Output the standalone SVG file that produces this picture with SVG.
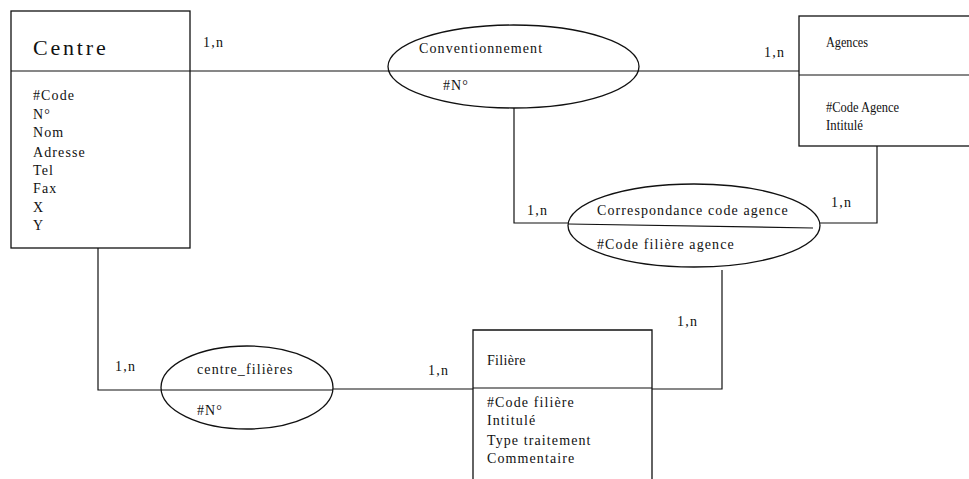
<svg xmlns="http://www.w3.org/2000/svg" width="969" height="479" viewBox="0 0 969 479">
<style>
.sh{fill:#fff;stroke:#111;stroke-width:1.3}
.ln{fill:none;stroke:#111;stroke-width:1.2}
.t{font-family:"Liberation Serif","Times New Roman",serif;font-size:14px;fill:#111;letter-spacing:1.1px}
.ag{font-family:"Liberation Serif","Times New Roman",serif;font-size:15px;fill:#111}
.card{font-family:"Liberation Serif","Times New Roman",serif;font-size:14px;fill:#111;letter-spacing:1.2px}
</style>
<rect width="969" height="479" fill="#fff"/>
<g id="connectors">
<line class="ln" x1="190" y1="71" x2="388" y2="71"/>
<line class="ln" x1="639" y1="71" x2="800" y2="71"/>
<polyline class="ln" points="514,108 514,223 568,223"/>
<polyline class="ln" points="877,146 877,223 820,223"/>
<polyline class="ln" points="98,248 98,390 161,390"/>
<line class="ln" x1="333" y1="389" x2="473" y2="389"/>
<polyline class="ln" points="722,270 722,389 652,389"/>
<text class="card" x="203" y="47">1,n</text>
<text class="card" x="764" y="57">1,n</text>
<text class="card" x="527" y="215">1,n</text>
<text class="card" x="831" y="207">1,n</text>
<text class="card" x="115" y="371">1,n</text>
<text class="card" x="428" y="375">1,n</text>
<text class="card" x="677" y="326">1,n</text>
</g>
<g id="centre">
<rect class="sh" x="11" y="11" width="179" height="237"/>
<line class="ln" x1="11" y1="71" x2="190" y2="71"/>
<text x="33" y="55" font-family="'Liberation Serif','Times New Roman',serif" font-size="22" letter-spacing="2.8" fill="#111">Centre</text>
<text class="t" x="33" y="100" letter-spacing="1px">#Code</text>
<text class="t" x="33" y="119" letter-spacing="1px">N°</text>
<text class="t" x="33" y="137" letter-spacing="1px">Nom</text>
<text class="t" x="33" y="157" letter-spacing="1px">Adresse</text>
<text class="t" x="33" y="175" letter-spacing="1px">Tel</text>
<text class="t" x="33" y="193" letter-spacing="1px">Fax</text>
<text class="t" x="33" y="212" letter-spacing="1px">X</text>
<text class="t" x="33" y="230" letter-spacing="1px">Y</text>
</g>
<g id="conventionnement">
<ellipse class="sh" cx="513.5" cy="66.5" rx="125.5" ry="41.5"/>
<line class="ln" x1="388" y1="71" x2="639" y2="71"/>
<text class="t" x="419" y="53">Conventionnement</text>
<text class="t" x="443" y="90" letter-spacing="1.5px">#N°</text>
</g>
<g id="agences">
<rect class="sh" x="799" y="16" width="190" height="130"/>
<line class="ln" x1="799" y1="75" x2="969" y2="75"/>
<text class="ag" x="826" y="47" textLength="42" lengthAdjust="spacingAndGlyphs">Agences</text>
<text class="ag" x="826" y="112" textLength="73" lengthAdjust="spacingAndGlyphs">#Code Agence</text>
<text class="ag" x="826" y="130" textLength="37" lengthAdjust="spacingAndGlyphs">Intitulé</text>
</g>
<g id="correspondance">
<ellipse class="sh" cx="694" cy="225.5" rx="126" ry="41.5"/>
<line class="ln" x1="568" y1="224" x2="813" y2="228"/>
<text class="t" x="597" y="215">Correspondance code agence</text>
<text class="t" x="597" y="249" letter-spacing="0.9px">#Code filière agence</text>
</g>
<g id="centre_filieres">
<ellipse class="sh" cx="247" cy="387.5" rx="86" ry="41.5"/>
<line class="ln" x1="161" y1="390" x2="333" y2="390"/>
<text class="t" x="197" y="374" letter-spacing="0.8px">centre_filières</text>
<text class="t" x="197" y="415" letter-spacing="1.5px">#N°</text>
</g>
<g id="filiere">
<path class="sh" d="M473,485 V330 H652 V485"/>
<line class="ln" x1="473" y1="388" x2="652" y2="388"/>
<text x="487" y="365" font-family="'Liberation Serif','Times New Roman',serif" font-size="14" letter-spacing="0.3" fill="#111">Filière</text>
<text class="t" x="487" y="407" letter-spacing="0.8px">#Code filière</text>
<text class="t" x="487" y="425" letter-spacing="0.8px">Intitulé</text>
<text class="t" x="487" y="445" letter-spacing="0.9px">Type traitement</text>
<text class="t" x="487" y="463" letter-spacing="0.9px">Commentaire</text>
</g>
</svg>
